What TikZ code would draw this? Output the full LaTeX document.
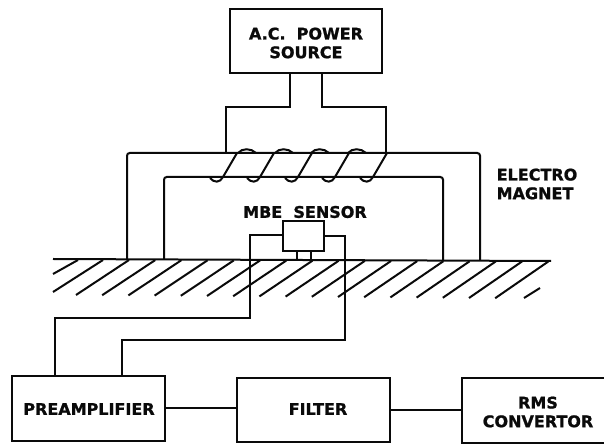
\documentclass[tikz,border=0pt]{standalone}
\usepackage{fontspec}
\setmainfont[BoldFeatures={FakeBold=1.2}]{DejaVu Sans}
\usepackage{xcolor}
\usetikzlibrary{positioning}
\definecolor{inkblack}{RGB}{10,10,10}

\begin{document}
\begin{tikzpicture}[
    x=0.75pt, y=-0.75pt,
    wire/.style={line width=1.5pt, inkblack},
    lbl/.style={font=\fontsize{12}{14}\selectfont\bfseries, text=inkblack, align=center, inner sep=0pt},
    blockbox/.style={draw=inkblack, line width=1.5pt, minimum width=114.5pt, minimum height=48.5pt, inner sep=0pt}
]
\useasboundingbox (0,0) rectangle (604,445);
\clip (0,0) rectangle (604,445);

% Power source
\node[blockbox] (source) at (306,41) {};
\node[lbl] (sourcelbl) at (306,43) {A.C.~~POWER\\SOURCE};

% Magnet yoke
\coordinate (yokeouter) at (127,259);
\coordinate (yokeinner) at (164,259);
\coordinate (yokeleft) at (226,153);
\coordinate (yokeright) at (386,153);
\draw[wire, rounded corners=2pt] (yokeouter) -- (127,153) -- (480,153) -- (480,260);
\draw[wire, rounded corners=2pt] (yokeinner) -- (164,177) -- (443,177) -- (443,260);
\node[lbl, align=left] (magnetlbl) at (537,184) {ELECTRO\\MAGNET};

% Leads from source to yoke
\draw[wire] (290,0 |- source.south) -- (290,107) -| (yokeleft);
\draw[wire] (322,0 |- source.south) -- (322,107) -| (yokeright);

% Coil
\foreach \cx in {223,260,298,335,373} {
    \draw[wire] (\cx-13,178) .. controls (\cx-9,183) and (\cx-3,183) .. (\cx,177) -- (\cx+14,153);
}
\foreach \cx in {238,275,311,348} {
    \draw[wire] (\cx,153) .. controls (\cx+4,148) and (\cx+13,148) .. (\cx+18,153);
}

% Ground and hatching
\draw[wire] (53,259) -- (551,261);
\draw[wire] (53,274) -- (78,260);
\draw[wire] (53,292) -- (103,260);
\foreach \k in {0,...,16} {
    \draw[wire] ({76+26.2*\k},{295+0.2*\k}) -- ({129+26.2*\k},{260+0.1*\k});
}
\draw[wire] (524,298) -- (540,288);

% Sensor
\node[lbl] (sensorlbl) at (305,212) {MBE~~SENSOR};
\node[draw=inkblack, line width=1.5pt, minimum width=30.5pt, minimum height=22.5pt, inner sep=0pt] (sensor) at (303.5,236) {};
\draw[wire] (297,0 |- sensor.south) -- (297,260);
\draw[wire] (311,0 |- sensor.south) -- (311,260);

% Bottom row
\node[blockbox] (preamp) at (88.5,408.5) {};
\node[lbl] (preamplbl) at (89,409) {PREAMPLIFIER};
\node[blockbox] (filter) at (313.5,410) {};
\node[lbl] (filterlbl) at (318,409) {FILTER};
\node[blockbox] (rms) at (538,410.5) {};
\node[lbl] (rmslbl) at (538,412) {RMS\\CONVERTOR};
\draw[wire] (preamp.east) -- (filter.west |- preamp.east);
\draw[wire] (filter.east) -- (rms.west |- filter.east);

% Sensor leads
\draw[wire] (sensor.west |- 0,235) -- (250,235) -- (250,318) -- (55,318) -- (55,0 |- preamp.north);
\draw[wire] (sensor.east |- 0,236) -- (345,236) -- (345,340) -- (122,340) -- (122,0 |- preamp.north);
\end{tikzpicture}
\end{document}
